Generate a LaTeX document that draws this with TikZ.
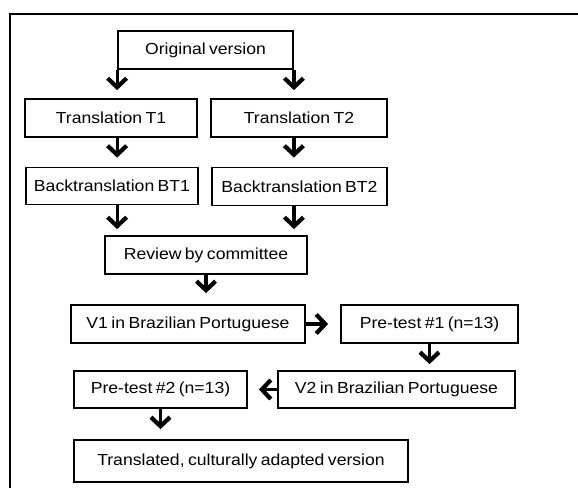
\documentclass[tikz,border=0pt]{standalone}
\usepackage{fontspec}
\setmainfont{Liberation Sans}[FakeStretch=1.1,WordSpace=0.7]
\usetikzlibrary{arrows.meta}
\begin{document}
\begin{tikzpicture}[x=1pt,y=-1pt,
  box/.style={draw,line width=1.8pt,rectangle,inner sep=0pt,align=center,
    font=\fontsize{16}{19}\selectfont},
  arr/.style={line width=3.2pt,-{Straight Barb[length=9pt,width=19pt,line width=4.2pt]}},
]
\useasboundingbox (0,0) rectangle (578,488);
\draw[line width=1.8pt] (10,488) -- (10,14) -- (578,14);
\node[box,minimum width=175pt,minimum height=38pt] (orig) at (205.5,50) {Original version};
\node[box,minimum width=172pt,minimum height=38pt] (t1) at (111,118) {Translation T1};
\node[box,minimum width=176pt,minimum height=38pt] (t2) at (299,118) {Translation T2};
\node[box,minimum width=172pt,minimum height=37pt] (bt1) at (112,186) {Backtranslation BT1};
\node[box,minimum width=175pt,minimum height=38pt] (bt2) at (299.5,186.5) {Backtranslation BT2};
\node[box,minimum width=202pt,minimum height=38pt] (rev) at (206,255) {Review by committee};
\node[box,minimum width=234pt,minimum height=38pt] (v1) at (188,324) {V1 in Brazilian Portuguese};
\node[box,minimum width=177pt,minimum height=38pt] (p1) at (429.5,324) {Pre-test \#1 (n=13)};
\node[box,minimum width=237pt,minimum height=37pt] (v2) at (396.5,389.5) {V2 in Brazilian Portuguese};
\node[box,minimum width=173pt,minimum height=37pt] (p2) at (160.5,389.5) {Pre-test \#2 (n=13)};
\node[box,minimum width=334pt,minimum height=42pt] (fin) at (241,461) {Translated, culturally adapted version};
\draw[arr,shorten >=8pt] (orig.south west) -- (orig.south west |- t1.north);
\draw[arr,shorten >=8pt] (orig.south east) -- (orig.south east |- t2.north);
\draw[arr,shorten >=9pt] (orig.south west |- t1.south) -- (orig.south west |- bt1.north);
\draw[arr,shorten >=9pt] (orig.south east |- t2.south) -- (orig.south east |- bt2.north);
\draw[arr,shorten >=6pt] (orig.south west |- bt1.south) -- (orig.south west |- rev.north);
\draw[arr,shorten >=6pt] (orig.south east |- bt2.south) -- (orig.south east |- rev.north);
\draw[arr,shorten >=11pt] (rev.south) -- (rev.south |- v1.north);
\draw[arr,shorten >=12pt] (v1.east) -- (v1.east -| p1.west);
\draw[arr,shorten >=6pt] (p1.south) -- (p1.south |- v2.north);
\draw[arr,shorten >=11pt] (v2.west) -- (v2.west -| p2.east);
\draw[arr,shorten >=10pt] (p2.south) -- (p2.south |- fin.north);
\end{tikzpicture}
\end{document}
